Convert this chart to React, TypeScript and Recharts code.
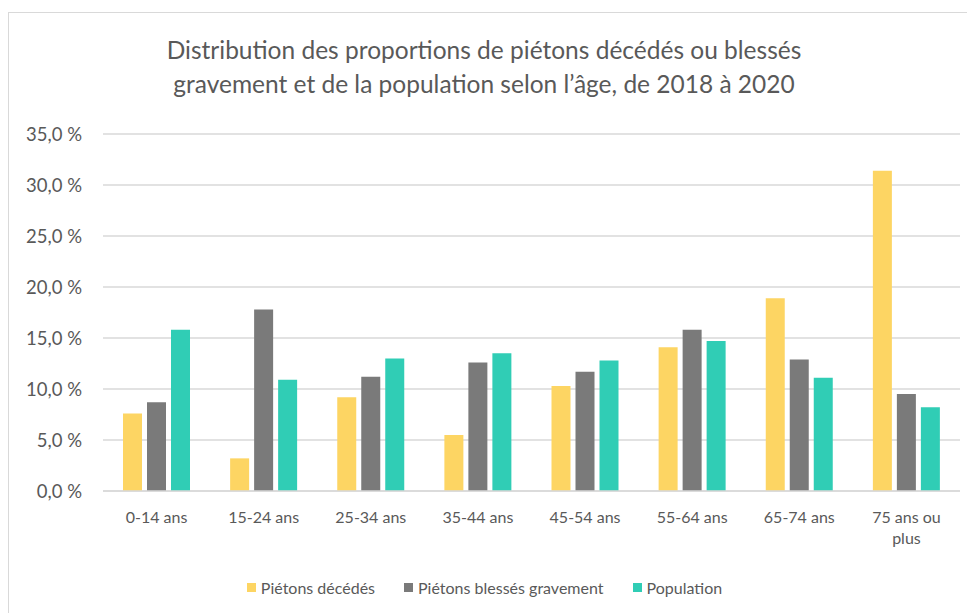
import { Bar, BarChart, CartesianGrid, Legend, XAxis, YAxis } from "recharts";

const ageGroups = [
  "0-14 ans",
  "15-24 ans",
  "25-34 ans",
  "35-44 ans",
  "45-54 ans",
  "55-64 ans",
  "65-74 ans",
  "75 ans ou plus",
];
const pietonsDecedes = [7.6, 3.2, 9.2, 5.5, 10.3, 14.1, 18.9, 31.4];
const pietonsBlesses = [8.7, 17.8, 11.2, 12.6, 11.7, 15.8, 12.9, 9.5];
const population = [15.8, 10.9, 13.0, 13.5, 12.8, 14.7, 11.1, 8.2];
const yTicks = [0, 5, 10, 15, 20, 25, 30, 35];

const seriesInfo = [
  { key: "decedes", name: "Piétons décédés", color: "#FDD563" },
  { key: "blesses", name: "Piétons blessés gravement", color: "#7A7A7A" },
  { key: "population", name: "Population", color: "#30CDB5" },
];

const chartData = ageGroups.map((age, i) => ({
  age,
  decedes: pietonsDecedes[i],
  blesses: pietonsBlesses[i],
  population: population[i],
}));

const FONT = "Lato, 'Open Sans', sans-serif";
const TEXT = "#595959";

const formatPct = (v: number) => `${v.toFixed(1).replace(".", ",")} %`;

// "75 ans ou plus" goes on two lines like in the original
function wrapLabel(label: string, max = 10) {
  const lines: string[] = [];
  let cur = "";
  for (const w of label.split(" ")) {
    const next = cur ? `${cur} ${w}` : w;
    if (next.length > max && cur) {
      lines.push(cur);
      cur = w;
    } else {
      cur = next;
    }
  }
  if (cur) lines.push(cur);
  return lines;
}

function AgeTick(props: any) {
  const { x, y, payload } = props;
  const lines = wrapLabel(String(payload.value));
  return (
    <text x={x} y={y + 30} textAnchor="middle" fill={TEXT} fontSize={16} fontFamily={FONT}>
      {lines.map((l, i) => (
        <tspan key={i} x={x} dy={i === 0 ? 0 : 21}>
          {l}
        </tspan>
      ))}
    </text>
  );
}

function LegendContent() {
  return (
    <div
      style={{
        height: 24,
        display: "flex",
        justifyContent: "center",
        alignItems: "center",
        gap: 29,
        fontFamily: FONT,
        fontSize: 16,
        color: TEXT,
      }}
    >
      {seriesInfo.map((s) => (
        <div key={s.key} style={{ display: "flex", alignItems: "center" }}>
          <span style={{ width: 9, height: 9, background: s.color, marginRight: 5 }} />
          <span>{s.name}</span>
        </div>
      ))}
    </div>
  );
}

export default function App() {
  return (
    <div
      style={{
        position: "relative",
        marginTop: 4,
        width: 966,
        height: 600,
        borderLeft: "1px solid #d9d9d9",
        borderTop: "1px solid #d9d9d9",
        background: "#fff",
      }}
    >
      <div
        style={{
          position: "absolute",
          top: 20,
          left: 0,
          width: 950,
          textAlign: "center",
          fontFamily: FONT,
          fontSize: 24.5,
          lineHeight: "34px",
          color: TEXT,
        }}
      >
        Distribution des proportions de piétons décédés ou blessés
        <br />
        gravement et de la population selon l’âge, de 2018 à 2020
      </div>
      <BarChart
        width={966}
        height={600}
        data={chartData}
        margin={{ top: 121, right: 15, left: 0, bottom: 14 }}
        barCategoryGap={20}
        barGap={5}
      >
        <CartesianGrid vertical={false} stroke="#d9d9d9" strokeWidth={1.5} />
        <XAxis
          dataKey="age"
          interval={0}
          height={84}
          tickLine={false}
          tickSize={0}
          axisLine={{ stroke: "#d9d9d9", strokeWidth: 1.5 }}
          tick={<AgeTick />}
        />
        <YAxis
          width={94}
          domain={[0, 35]}
          ticks={yTicks}
          tickFormatter={formatPct}
          axisLine={false}
          tickLine={false}
          tickSize={0}
          tickMargin={21}
          tick={{ fill: TEXT, fontSize: 18.5, fontFamily: FONT }}
        />
        <Legend verticalAlign="bottom" content={<LegendContent />} />
        {seriesInfo.map((s) => (
          <Bar
            key={s.key}
            dataKey={s.key}
            name={s.name}
            fill={s.color}
            isAnimationActive={false}
          />
        ))}
      </BarChart>
    </div>
  );
}
